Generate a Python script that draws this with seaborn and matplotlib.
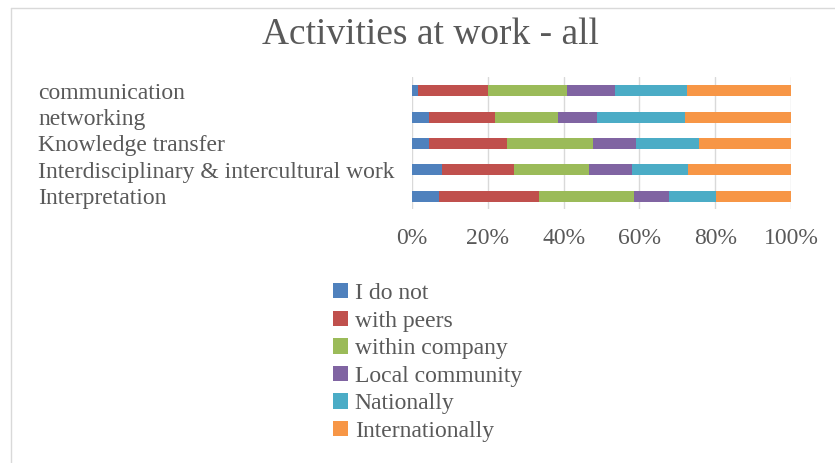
import matplotlib
matplotlib.use("Agg")
import matplotlib.pyplot as plt
from matplotlib.patches import Patch
import seaborn as sns
import pandas as pd
import numpy as np

# Share of responses per activity (percent of respondents)
activities = ["communication", "networking", "Knowledge transfer",
              "Interdisciplinary & intercultural work", "Interpretation"]
levels = ["I do not", "with peers", "within company",
          "Local community", "Nationally", "Internationally"]
i_do_not        = [1.6, 4.4, 4.4, 7.9, 7.2]
with_peers      = [18.4, 17.4, 20.6, 19.1, 26.3]
within_company  = [21.0, 16.7, 22.7, 19.7, 25.2]
local_community = [12.6, 10.4, 11.4, 11.3, 9.0]
nationally      = [18.9, 23.2, 16.7, 14.8, 12.4]
internationally = [27.5, 27.9, 24.2, 27.2, 19.9]
tick_labels = ["0%", "20%", "40%", "60%", "80%", "100%"]

colors = ["#4F81BD", "#C0504D", "#9BBB59", "#8064A2", "#4BACC6", "#F79646"]
text_color = "#595959"

sns.set_theme(style="white")
plt.rcParams["font.family"] = ["Liberation Serif", "DejaVu Serif"]

series = [i_do_not, with_peers, within_company, local_community,
          nationally, internationally]
df = pd.DataFrame({lvl: vals for lvl, vals in zip(levels, series)})
df["activity"] = activities
# normalise each row to 100 %
tot = df[levels].sum(axis=1)
for lvl in levels:
    df[lvl] = df[lvl] / tot
cum = df[levels].cumsum(axis=1)

fig = plt.figure(figsize=(8.35, 4.63), dpi=100)
ax = fig.add_axes([412 / 835, 1 - 209.5 / 463, 379 / 835, 132 / 463])

# stacked bars: draw cumulative totals from the outermost segment inwards
for lvl, col in reversed(list(zip(levels, colors))):
    sns.barplot(x=cum[lvl], y=df["activity"], order=activities,
                color=col, width=0.42, saturation=1, ax=ax,
                linewidth=0, zorder=3)

ax.set_xlim(0, 1)
ax.set_xticks(np.linspace(0, 1, 6))
ax.set_xticklabels(tick_labels)
ax.xaxis.grid(True, color="#D9D9D9", linewidth=1, zorder=0)
ax.set_axisbelow(True)
for s in ax.spines.values():
    s.set_visible(False)
ax.set_xlabel("")
ax.set_ylabel("")
ax.tick_params(axis="x", length=0, pad=13.5, labelsize=17, labelcolor=text_color)
ax.tick_params(axis="y", length=0, pad=(412 - 38) * 0.72, labelsize=17,
               labelcolor=text_color)
for lab in ax.get_yticklabels():
    lab.set_horizontalalignment("left")

fig.text(430 / 835, 1 - 35 / 463, "Activities at work - all", ha="center",
         va="center", fontsize=27, color=text_color)

handles = [Patch(facecolor=c, edgecolor="none", label=l)
           for l, c in zip(levels, colors)]
fig.legend(handles=handles, loc="upper left",
           bbox_to_anchor=(333 / 835, 1 - 283 / 463), frameon=False,
           fontsize=17, labelcolor=text_color, handlelength=0.62,
           handleheight=0.62, handletextpad=0.3, labelspacing=0.28,
           borderaxespad=0, borderpad=0)

# chart frame (left and top edges)
fig.add_artist(plt.Line2D([11 / 835, 11 / 835], [0, 1 - 8 / 463],
                          transform=fig.transFigure, color="#D9D9D9", lw=1))
fig.add_artist(plt.Line2D([11 / 835, 1], [1 - 8 / 463, 1 - 8 / 463],
                          transform=fig.transFigure, color="#D9D9D9", lw=1))

fig.savefig("out.png", dpi=100, facecolor="white")
